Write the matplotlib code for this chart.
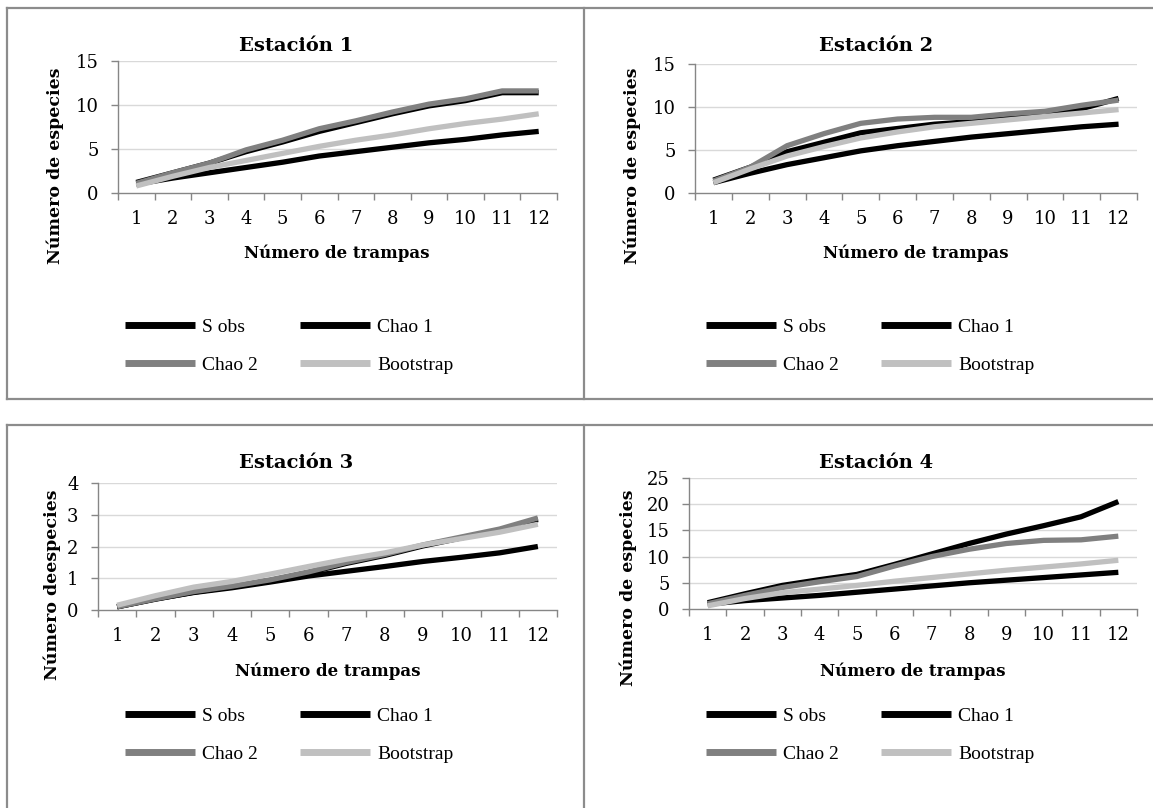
import numpy as np
import matplotlib.pyplot as plt
from matplotlib.lines import Line2D

W, H = 1153, 808

trampas = list(range(1, 13))
series_names = ['S obs', 'Chao 1', 'Chao 2', 'Bootstrap']
series_colors = ['#000000', '#000000', '#808080', '#c0c0c0']

# Estación 1
e1_sobs = [1.0, 1.7, 2.3, 2.9, 3.5, 4.2, 4.7, 5.2, 5.7, 6.1, 6.6, 7.0]
e1_chao1 = [1.2, 2.3, 3.4, 4.7, 5.8, 7.0, 8.0, 9.0, 9.9, 10.5, 11.4, 11.4]
e1_chao2 = [1.1, 2.3, 3.4, 4.9, 6.0, 7.3, 8.2, 9.2, 10.1, 10.7, 11.6, 11.6]
e1_boot = [0.8, 1.9, 2.9, 3.7, 4.5, 5.3, 6.0, 6.6, 7.3, 7.9, 8.4, 9.0]

# Estación 2
e2_sobs = [1.2, 2.3, 3.3, 4.1, 4.9, 5.5, 6.0, 6.5, 6.9, 7.3, 7.7, 8.0]
e2_chao1 = [1.5, 3.0, 4.8, 5.9, 7.0, 7.5, 8.0, 8.3, 8.7, 9.3, 9.8, 11.0]
e2_chao2 = [1.4, 3.0, 5.5, 6.9, 8.1, 8.6, 8.8, 8.8, 9.2, 9.5, 10.2, 10.8]
e2_boot = [1.2, 2.8, 4.3, 5.4, 6.4, 7.1, 7.7, 8.1, 8.5, 8.9, 9.3, 9.7]

# Estación 3
e3_sobs = [0.1, 0.35, 0.55, 0.7, 0.88, 1.07, 1.22, 1.37, 1.53, 1.66, 1.8, 2.0]
e3_chao1 = [0.1, 0.34, 0.56, 0.73, 0.93, 1.17, 1.47, 1.72, 2.02, 2.27, 2.52, 2.85]
e3_chao2 = [0.1, 0.35, 0.58, 0.75, 0.95, 1.2, 1.5, 1.75, 2.05, 2.3, 2.55, 2.9]
e3_boot = [0.15, 0.45, 0.72, 0.9, 1.13, 1.37, 1.6, 1.8, 2.05, 2.25, 2.45, 2.7]

# Estación 4
e4_sobs = [0.9, 1.6, 2.1, 2.6, 3.2, 3.8, 4.4, 5.0, 5.5, 6.0, 6.5, 7.0]
e4_chao1 = [1.2, 2.9, 4.5, 5.6, 6.6, 8.5, 10.5, 12.5, 14.3, 15.9, 17.6, 20.5]
e4_chao2 = [1.0, 2.6, 4.1, 5.2, 6.2, 8.2, 10.0, 11.4, 12.5, 13.1, 13.2, 13.9]
e4_boot = [0.6, 2.0, 3.1, 3.8, 4.5, 5.3, 6.0, 6.7, 7.4, 8.0, 8.6, 9.3]

estaciones = [
    dict(titulo='Estación 1', ylabel='Número de especies', ymax=15, ystep=5,
         datos=[e1_sobs, e1_chao1, e1_chao2, e1_boot],
         rect=(118, 61, 557, 193), title_xy=(296, 46), xlab_xy=(337, 253),
         ylab_xy=(55, 166), legend_xy=(125, 346)),
    dict(titulo='Estación 2', ylabel='Número de especies', ymax=15, ystep=5,
         datos=[e2_sobs, e2_chao1, e2_chao2, e2_boot],
         rect=(695, 64, 1137, 193), title_xy=(876, 46), xlab_xy=(916, 253),
         ylab_xy=(632, 166), legend_xy=(706, 346)),
    dict(titulo='Estación 3', ylabel='Número deespecies', ymax=4, ystep=1,
         datos=[e3_sobs, e3_chao1, e3_chao2, e3_boot],
         rect=(98, 483, 557, 610), title_xy=(296, 463), xlab_xy=(328, 671),
         ylab_xy=(52, 585), legend_xy=(125, 735)),
    dict(titulo='Estación 4', ylabel='Número de especies', ymax=25, ystep=5,
         datos=[e4_sobs, e4_chao1, e4_chao2, e4_boot],
         rect=(689, 478, 1137, 609), title_xy=(876, 463), xlab_xy=(913, 671),
         ylab_xy=(628, 588), legend_xy=(706, 735)),
]

SERIF = 'DejaVu Serif'
LEG_FONT = 'Liberation Serif'
AXIS_GRAY = '#868686'


def fx(px):
    return px / W


def fy(py):
    return 1 - py / H


fig = plt.figure(figsize=(W / 100, H / 100), dpi=100)

# marco de las cuatro celdas
frame = dict(color='#8c8c8c', lw=1.6, transform=fig.transFigure)
for seg in [((7, 8), (1153, 8)), ((7, 399), (1153, 399)), ((7, 425), (1153, 425)),
            ((7, 8), (7, 399)), ((7, 425), (7, 808)),
            ((584, 8), (584, 399)), ((584, 425), (584, 808))]:
    (x0, y0), (x1, y1) = seg
    fig.add_artist(Line2D([fx(x0), fx(x1)], [fy(y0), fy(y1)], **frame))

for est in estaciones:
    l, t, r, b = est['rect']
    ax = fig.add_axes([fx(l), fy(b), (r - l) / W, (b - t) / H])

    lines = []
    for vals, name, col in zip(est['datos'], series_names, series_colors):
        ln, = ax.plot(trampas, vals, color=col, lw=3.8, label=name,
                      solid_joinstyle='round', solid_capstyle='butt')
        lines.append(ln)

    ax.set_xlim(0.5, 12.5)
    ax.set_ylim(0, est['ymax'])
    yt = np.arange(0, est['ymax'] + 0.01, est['ystep'])
    ax.set_yticks(yt)
    ax.set_yticklabels([f'{v:g}' for v in yt])
    for v in yt[1:]:
        ax.axhline(v, color='#d9d9d9', lw=1.0, zorder=0)

    ax.set_xticks(trampas)
    ax.set_xticks(np.arange(0.5, 13, 1), minor=True)
    ax.tick_params(axis='x', which='major', length=0, pad=12,
                   labelsize=13, labelfontfamily=SERIF)
    ax.tick_params(axis='x', which='minor', length=5, width=1, color=AXIS_GRAY,
                   direction='out')
    ax.tick_params(axis='y', length=5, width=1, color=AXIS_GRAY, pad=9,
                   labelsize=13, labelfontfamily=SERIF)

    for side in ['top', 'right']:
        ax.spines[side].set_visible(False)
    for side in ['left', 'bottom']:
        ax.spines[side].set_color(AXIS_GRAY)
        ax.spines[side].set_linewidth(1.0)

    fig.text(fx(est['title_xy'][0]), fy(est['title_xy'][1]), est['titulo'],
             ha='center', va='center', fontsize=14, fontweight='bold',
             family=SERIF)
    ax.set_xlabel('Número de trampas', fontsize=12, fontweight='bold',
                  family=SERIF, va='center')
    ax.xaxis.set_label_coords(fx(est['xlab_xy'][0]), fy(est['xlab_xy'][1]),
                              transform=fig.transFigure)
    ax.set_ylabel(est['ylabel'], fontsize=12.5, fontweight='bold',
                  family=SERIF, va='center')
    ax.yaxis.set_label_coords(fx(est['ylab_xy'][0]), fy(est['ylab_xy'][1]),
                              transform=fig.transFigure)

    # leyenda en dos filas: S obs / Chao 1 arriba, Chao 2 / Bootstrap abajo
    order = [0, 2, 1, 3]
    leg = ax.legend([lines[i] for i in order], [series_names[i] for i in order],
                    ncol=2, loc='center left',
                    bbox_to_anchor=(fx(est['legend_xy'][0]), fy(est['legend_xy'][1])),
                    bbox_transform=fig.transFigure, frameon=False,
                    prop=dict(family=LEG_FONT, size=14), handlelength=3.6,
                    handletextpad=0.35, columnspacing=2.2, labelspacing=1.05,
                    borderpad=0, borderaxespad=0)
    for h in leg.legend_handles:
        h.set_linewidth(5)

fig.savefig('out.png', dpi=100)
